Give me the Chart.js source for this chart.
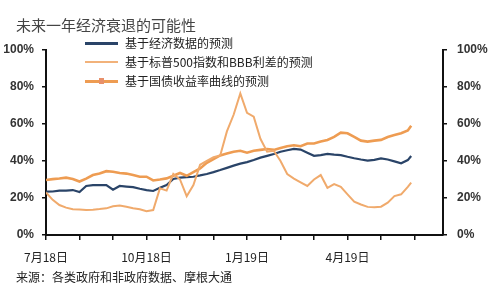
<!DOCTYPE html>
<html>
<head>
<meta charset="utf-8">
<script src="https://cdn.jsdelivr.net/npm/chart.js@4"></script>
<style>
  body { margin: 0; background: #fff; }
  #wrap { position: relative; width: 490px; height: 286px; font-family: "Noto Sans CJK SC", sans-serif; }
  #chart { position: absolute; left: 0; top: 0; }
  .title { position: absolute; left: 16px; top: 14px; font-size: 15px; color: #444; }
  .source { position: absolute; left: 16px; top: 269px; font-size: 12px; color: #222; line-height: 16px; }
  .legend { position: absolute; left: 85px; top: 34px; font-size: 12px; color: #222; }
  .legend .row { position: relative; height: 19px; line-height: 17px; padding-left: 40px; }
  .legend .sw { position: absolute; left: 0; top: 8px; width: 33px; height: 3px; }
  .legend .mk { position: absolute; left: 14px; top: 6px; width: 5px; height: 6px; background: #E8906A; }
</style>
</head>
<body>
<div id="wrap">
  <canvas id="chart" width="490" height="286"></canvas>
  <div class="title">未来一年经济衰退的可能性</div>
  <div class="legend">
    <div class="row"><span class="sw" style="background:#2A4468"></span>基于经济数据的预测</div>
    <div class="row"><span class="sw" style="background:#F2B27A;height:2px"></span>基于标普500指数和BBB利差的预测</div>
    <div class="row"><span class="sw" style="background:#EE9C52"></span><span class="mk"></span>基于国债收益率曲线的预测</div>
  </div>
  <div class="source">来源：各类政府和非政府数据、摩根大通</div>
</div>
<script>
// ===============================================
// Data (x = months since Jul 2018)
// ===============================================
const months = [0, 0.2, 0.4, 0.6, 0.8, 1, 1.2, 1.4, 1.6, 1.8, 2, 2.2, 2.4, 2.6, 2.8, 3, 3.2, 3.4, 3.6, 3.8,
  4, 4.2, 4.4, 4.6, 4.8, 5, 5.2, 5.4, 5.6, 5.8, 6, 6.2, 6.4, 6.6, 6.8, 7, 7.2, 7.4, 7.6, 7.8,
  8, 8.2, 8.4, 8.6, 8.8, 9, 9.2, 9.4, 9.6, 9.8, 10, 10.2, 10.4, 10.6, 10.8, 10.9];

const econData = [23.4, 23.5, 24, 24, 24.3, 23.2, 26.5, 27, 27, 27, 24.5, 26.5, 26.2, 25.9, 25, 24.3, 23.8, 25.5, 27, 30.3,
  31, 31.3, 31.5, 32.2, 33, 34, 35.1, 36.3, 37.5, 38.6, 39.4, 40.5, 41.8, 42.8, 43.8, 45, 45.8, 46.5, 46.2, 44.5,
  42.8, 43.2, 43.8, 43.4, 43.2, 42.3, 41.5, 40.8, 40.2, 40.6, 41.4, 40.8, 39.8, 38.8, 40.5, 42.7];

const spxData = [23, 19, 16.2, 14.8, 13.9, 13.8, 13.5, 13.7, 14, 14.4, 15.5, 16, 15.3, 14.5, 13.9, 12.8, 13.5, 25.2, 24, 33,
  30, 21, 27, 38, 40, 42, 43, 56, 65, 76.5, 66, 64, 52, 45, 45.5, 40, 33, 30.5, 28.5, 26.5,
  30, 32.4, 25.5, 27.5, 26, 22, 18, 16.5, 15.2, 15, 15.3, 17.5, 21, 22, 26, 28.3];

const curveData = [29.7, 30.2, 30.5, 31, 30.3, 28.9, 30.5, 32.4, 33.2, 34.5, 34.2, 33.5, 33.2, 32.4, 31.5, 31.5, 29.5, 30, 30.6, 32,
  33.5, 32, 34, 36, 39, 41, 43, 44, 45, 45.5, 44.5, 45.5, 46, 46.5, 46, 47, 48, 48.5, 48, 49.5,
  49.5, 50.5, 51.4, 53, 55.3, 55, 53, 51, 50.5, 51, 51.4, 53, 54, 55, 56.5, 59];

const tickMonths = [0, 3, 6, 9];
const tickLabels = ['7月18日', '10月18日', '1月19日', '4月19日'];
const yTicks = [0, 20, 40, 60, 80, 100];

function toPoints(values) {
  return values.map((v, i) => ({ x: months[i], y: v }));
}

// ===============================================
// Chart
// ===============================================
const axisFont = { family: 'Arial, "Liberation Sans"', size: 12, weight: 'bold' };

new Chart(document.getElementById('chart').getContext('2d'), {
  type: 'line',
  data: {
    datasets: [
      {
        label: '基于标普500指数和BBB利差的预测',
        data: toPoints(spxData),
        borderColor: '#F0AA6C',
        borderWidth: 2,
        pointRadius: 0,
        tension: 0
      },
      {
        label: '基于国债收益率曲线的预测',
        data: toPoints(curveData),
        borderColor: '#EE9C52',
        borderWidth: 2.6,
        pointRadius: 0,
        tension: 0
      },
      {
        label: '基于经济数据的预测',
        data: toPoints(econData),
        borderColor: '#2A4468',
        borderWidth: 2.2,
        pointRadius: 0,
        tension: 0
      }
    ]
  },
  options: {
    responsive: false,
    animation: false,
    layout: { padding: { top: 50, left: 0, right: 0, bottom: 0 } },
    plugins: { legend: { display: false }, tooltip: { enabled: false } },
    scales: {
      x: {
        type: 'linear',
        min: 0,
        max: 11.85,
        afterFit: s => { s.height = 51; },
        border: { display: true, color: '#111', width: 2 },
        grid: { drawOnChartArea: false, drawTicks: true, tickLength: 5, color: '#111', lineWidth: 1.5 },
        ticks: {
          stepSize: 1,
          autoSkip: false,
          includeBounds: false,
          maxRotation: 0,
          padding: 10,
          color: '#222',
          font: { family: '"Noto Sans CJK SC"', size: 12 },
          callback: v => {
            const k = tickMonths.indexOf(v);
            return k >= 0 ? tickLabels[k] : '';
          }
        }
      },
      y: {
        position: 'left',
        min: 0,
        max: 100,
        afterFit: s => { s.width = 46; },
        afterBuildTicks: s => { s.ticks = yTicks.map(v => ({ value: v })); },
        border: { display: true, color: '#111', width: 2 },
        grid: { drawOnChartArea: false, drawTicks: true, tickLength: 4, color: '#111', lineWidth: 1.5 },
        ticks: { padding: 8, color: '#333', font: axisFont, callback: v => v + '%' }
      },
      y1: {
        position: 'right',
        min: 0,
        max: 100,
        afterFit: s => { s.width = 47; },
        afterBuildTicks: s => { s.ticks = yTicks.map(v => ({ value: v })); },
        border: { display: true, color: '#111', width: 2 },
        grid: { drawOnChartArea: false, drawTicks: true, tickLength: 4, color: '#111', lineWidth: 1.5 },
        ticks: { padding: 10, color: '#333', font: axisFont, callback: v => v + '%' }
      }
    }
  }
});
</script>
</body>
</html>
